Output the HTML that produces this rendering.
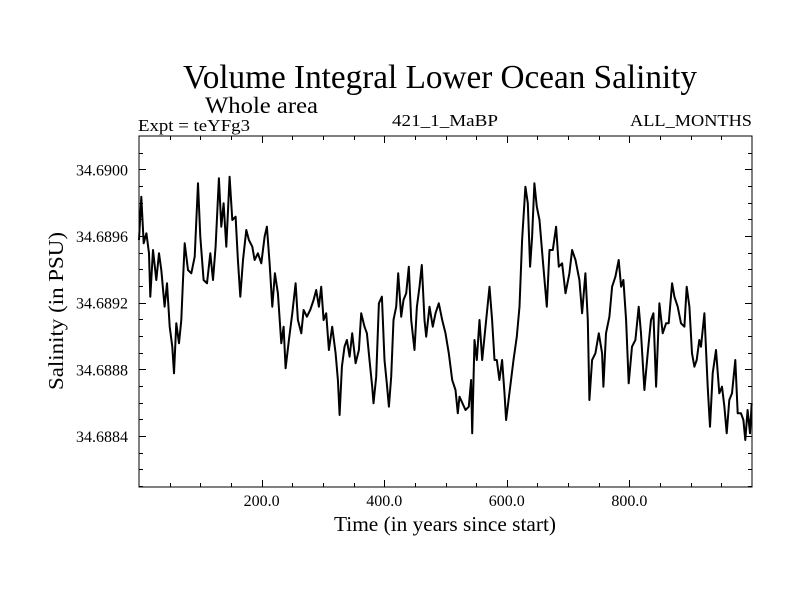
<!DOCTYPE html>
<html><head><meta charset="utf-8"><style>
body{margin:0;background:#fff}
svg text{font-family:"Liberation Serif",serif;fill:#000}
</style></head><body>
<svg id="chart" width="800" height="600" viewBox="0 0 800 600" xmlns="http://www.w3.org/2000/svg">
<rect width="800" height="600" fill="#fff"/>
<text x="440" y="88" font-size="34" text-anchor="middle" textLength="514" lengthAdjust="spacingAndGlyphs">Volume Integral Lower Ocean Salinity</text>
<text x="205" y="113" font-size="23" textLength="113" lengthAdjust="spacingAndGlyphs">Whole area</text>
<text x="138" y="131" font-size="17" textLength="112" lengthAdjust="spacingAndGlyphs">Expt = teYFg3</text>
<text x="445" y="126" font-size="17" text-anchor="middle" textLength="106" lengthAdjust="spacingAndGlyphs">421_1_MaBP</text>
<text x="752" y="126" font-size="17" text-anchor="end" textLength="122" lengthAdjust="spacingAndGlyphs">ALL_MONTHS</text>
<text x="445" y="531" font-size="21" text-anchor="middle" textLength="222" lengthAdjust="spacingAndGlyphs">Time (in years since start)</text>
<text transform="translate(63,311) rotate(-90)" font-size="21" text-anchor="middle" textLength="158" lengthAdjust="spacingAndGlyphs">Salinity (in PSU)</text>
<g id="ticks"></g>
<g id="series"></g>
<rect x="139" y="136" width="613" height="351" fill="none" stroke="#000" stroke-width="1"/>
</svg>
<script>
const years=[0,3.8,7.6,12,16.3,18.5,22.8,28.3,32.6,36.4,41.8,45.7,50,54.3,57.1,60.9,65.2,69,71.7,74.5,79.9,85.3,90.8,96.2,100,105.4,110.9,116.3,120.7,125,130.4,134.2,138,142.4,147.8,152.2,157.6,161.4,165.2,169.6,175,179.3,184.8,188.6,194,199.5,204.9,208.7,213,217.4,221.7,226.6,232.1,235.9,239.1,244.6,250,255.4,259.2,264.7,268.5,273.9,279.3,284.8,289.1,293.5,297.3,301.1,305.4,309.8,315.2,320.7,324.5,327.2,331,335.3,339.1,343.5,347.8,353.3,358.7,362.5,367.9,371.7,376.1,380.4,382.6,387,391.3,396.2,400.5,404.3,407.6,411.4,415.2,419.6,422.8,427.7,431.5,435.9,440.2,444,449.5,453.3,457.6,461.4,465.8,468.5,473.9,479.3,483.7,489.1,494.6,500,505.4,510.9,516.3,520.1,522.8,532.6,538,541.8,543.5,547.3,551.1,555.4,559.8,565.2,571.7,576.1,579.9,583.7,588,592.4,596.2,598.9,604.3,610.9,616.3,620.7,625,630.4,634.2,638,641.3,645.1,648.9,653.3,658.7,665.2,669.6,675,680.4,684.8,690.2,695.7,702.2,706.5,712,718.5,722.8,728.3,732.1,734.8,739.1,744.6,750,755.4,757.6,761.9,767.4,771.7,777.2,782.6,786.4,790.2,794.6,798.9,804.3,809.8,815.2,819,824.5,829.9,835.3,839.1,843.5,848.9,854.3,859.8,864.1,869.6,873.4,878.8,884.2,889.7,893.5,897.8,902.2,906,909.8,914.1,916.8,922.3,927.7,931.5,935.9,941.3,946.7,951.1,954.9,958.7,963,967.4,972.8,976.6,982.1,985.9,989.1,992.9,996.7,999.5];
const salinity=[34.689576,34.689836,34.689556,34.689616,34.689496,34.689236,34.689516,34.689336,34.689496,34.689396,34.689176,34.689316,34.689056,34.688936,34.688776,34.689076,34.688956,34.689096,34.689336,34.689556,34.689396,34.689376,34.689476,34.689916,34.689596,34.689336,34.689316,34.689496,34.689336,34.689536,34.689946,34.689656,34.689796,34.689536,34.689956,34.689696,34.689716,34.689456,34.689236,34.689456,34.689636,34.689576,34.689536,34.689456,34.689496,34.689436,34.689596,34.689656,34.689436,34.689176,34.689376,34.689256,34.688956,34.689056,34.688806,34.688976,34.689136,34.689316,34.689096,34.689016,34.689156,34.689116,34.689156,34.689216,34.689276,34.689176,34.689296,34.689096,34.689136,34.688916,34.689056,34.688896,34.688736,34.688526,34.688816,34.688936,34.688976,34.688876,34.689016,34.688836,34.688916,34.689136,34.689056,34.689016,34.688856,34.688696,34.688596,34.688756,34.689196,34.689236,34.688856,34.688716,34.688576,34.688756,34.689096,34.689176,34.689376,34.689116,34.689216,34.689256,34.689416,34.689096,34.688916,34.689176,34.689296,34.689426,34.689096,34.688996,34.689176,34.689056,34.689136,34.689196,34.689096,34.689016,34.688896,34.688736,34.688676,34.688536,34.688636,34.688556,34.688576,34.688736,34.688416,34.688976,34.688856,34.689096,34.688856,34.689056,34.689296,34.689096,34.688856,34.688856,34.688736,34.688856,34.688656,34.688496,34.688656,34.688856,34.688996,34.689176,34.689576,34.689896,34.689796,34.689416,34.689596,34.689916,34.689776,34.689696,34.689456,34.689176,34.689516,34.689516,34.689656,34.689416,34.689436,34.689256,34.689376,34.689516,34.689456,34.689336,34.689136,34.689376,34.689096,34.688616,34.688856,34.688896,34.689016,34.688896,34.688696,34.689016,34.689116,34.689296,34.689356,34.689456,34.689296,34.689336,34.689096,34.688716,34.688936,34.688976,34.689176,34.689016,34.688676,34.688896,34.689096,34.689136,34.688696,34.689196,34.689016,34.689076,34.689076,34.689316,34.689236,34.689176,34.689076,34.689056,34.689296,34.689176,34.688896,34.688816,34.688856,34.688976,34.688936,34.689136,34.688696,34.688456,34.688776,34.688916,34.688656,34.688696,34.688576,34.688416,34.688616,34.688656,34.688856,34.688536,34.688536,34.688496,34.688376,34.688556,34.688416,34.688596];
const xTickLabels=["200.0","400.0","600.0","800.0"];
const xTickValues=[200,400,600,800];
const yTickLabels=["34.6884","34.6888","34.6892","34.6896","34.6900"];
const yTickValues=[34.6884,34.6888,34.6892,34.6896,34.6900];

const L=139,R=752,T=136,B=487,X0=0,X1=1000,Y0=34.688094,Y1=34.6902;
function sx(v){return L+(v-X0)/(X1-X0)*(R-L);}
function sy(v){return B-(v-Y0)/(Y1-Y0)*(B-T);}
const NS="http://www.w3.org/2000/svg";
const tg=document.getElementById('ticks');
function line(x1,y1,x2,y2,name){
  const l=document.createElementNS(NS,'line');
  l.setAttribute('x1',x1);l.setAttribute('y1',y1);l.setAttribute('x2',x2);l.setAttribute('y2',y2);
  l.setAttribute('stroke','#000');l.setAttribute('stroke-width','1');
  
  
  tg.appendChild(l);
}
function text(x,y,s,anchor,name){
  const t=document.createElementNS(NS,'text');
  t.setAttribute('x',x);t.setAttribute('y',y);t.setAttribute('font-size','16');t.setAttribute('text-anchor',anchor);
  t.textContent=s;
  
  
  tg.appendChild(t);
}
for(let v=50;v<X1;v+=50){
  const major=v%200===0, len=major?7:4, x=Math.round(sx(v))+0.5;
  line(x,B,x,B-len,'x-tick');
  line(x,T,x,T+len,'x-tick-top');
}
xTickValues.forEach((v,i)=>text(sx(v),506,xTickLabels[i],'middle','x-tick-label'));
for(let k=-5;k<=20;k++){
  const v=34.6884+k*0.0001; if(v<Y0||v>Y1) continue;
  const major=((k%4)+4)%4===0, len=major?7:4, y=Math.round(sy(v))+0.5;
  line(L,y,L+len,y,'y-tick');
  line(R,y,R-len,y,'y-tick-right');
}
yTickValues.forEach((v,i)=>text(128,sy(v)+6,yTickLabels[i],'end','y-tick-label'));
const p=document.createElementNS(NS,'polyline');
p.setAttribute('points',years.map((y,i)=>sx(y).toFixed(1)+','+sy(salinity[i]).toFixed(1)).join(' '));
p.setAttribute('fill','none');p.setAttribute('stroke','#000');p.setAttribute('stroke-width','2');p.setAttribute('stroke-linejoin','round');


document.getElementById('series').appendChild(p);
</script>
</body></html>
